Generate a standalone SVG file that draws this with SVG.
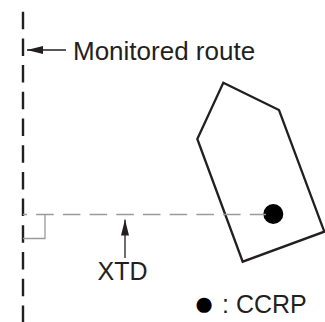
<svg xmlns="http://www.w3.org/2000/svg" width="325" height="322" viewBox="0 0 325 322">
<style>
.lbl{font-family:"Liberation Sans",Arial,sans-serif;font-size:25px;fill:#231f20}
.route{stroke:#231f20;stroke-width:2.4;stroke-dasharray:17.5 9.2;fill:none}
.gray{stroke:#9a9a9a;stroke-width:1.3;fill:none}
.arr{stroke:#231f20;stroke-width:1.3;fill:none}
</style>
<defs>
<marker id="ah" viewBox="0 0 16 8" refX="16" refY="4" markerWidth="16" markerHeight="8" markerUnits="userSpaceOnUse" orient="auto">
<path d="M0,0 L16,4 L0,8 Z" fill="#231f20"/>
</marker>
</defs>
<g id="route">
<line class="route" x1="23" y1="11.7" x2="23" y2="322"/>
</g>
<g id="ship">
<polygon points="223.3,82.7 279,110 324.3,231.7 242.7,261.7 197.3,139" fill="none" stroke="#231f20" stroke-width="2.3" stroke-linejoin="miter"/>
<circle cx="273.3" cy="214" r="10" fill="#000"/>
</g>
<g id="connectors">
<line class="gray" x1="23" y1="214.5" x2="266" y2="214.5" stroke-dasharray="17.5 9.2" stroke-dashoffset="13.5"/>
<polyline class="gray" points="45,214.5 45,238.5 23,238.5"/>
<line class="arr" x1="66" y1="50" x2="27" y2="50" marker-end="url(#ah)"/>
<line class="arr" x1="125" y1="258" x2="125" y2="219.5" marker-end="url(#ah)"/>
</g>
<g id="labels">
<text class="lbl" x="73" y="60" style="font-size:26px">Monitored route</text>
<text class="lbl" x="122.5" y="280" text-anchor="middle">XTD</text>
<text class="lbl" y="313"><tspan x="193.5" y="314.5" style="font-size:35px;fill:#000">●</tspan><tspan x="222" y="313">: CCRP</tspan></text>
</g>
</svg>
